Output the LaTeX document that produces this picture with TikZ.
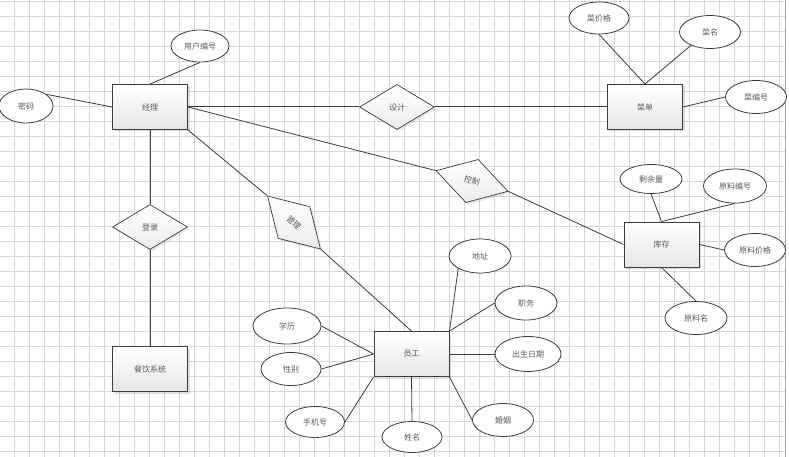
\documentclass[tikz,border=0pt]{standalone}
\usepackage{fontspec}
\setmainfont{Noto Sans CJK SC}
\usetikzlibrary{shapes.geometric,shadows}
\definecolor{gridc}{RGB}{214,214,214}
\definecolor{edgec}{RGB}{60,60,60}
\definecolor{txtc}{RGB}{90,90,90}
\begin{document}
\begin{tikzpicture}[x=1pt,y=-1pt,
  gridline/.style={draw=gridc,line width=0.8pt},
  entity/.style={rectangle,draw=edgec,line width=0.9pt,minimum width=75,minimum height=45,
    top color=white,bottom color=black!10,inner sep=1pt,
    drop shadow={shadow xshift=2pt,shadow yshift=-2pt,opacity=0.25}},
  rel/.style={diamond,draw=edgec,line width=0.7pt,minimum width=75,minimum height=45,
    shape aspect=1.667,inner sep=0pt,top color=white,bottom color=black!8,
    drop shadow={shadow xshift=2pt,shadow yshift=-2pt,opacity=0.18}},
  attr/.style={ellipse,draw=edgec,line width=0.8pt,fill=white,inner sep=0pt,
    minimum width=60,minimum height=33},
  conn/.style={draw=edgec,line width=0.8pt},
  font=\fontsize{8}{10}\selectfont, text=txtc]
\useasboundingbox (0,0) rectangle (789,457);
\fill[white] (0,0) rectangle (789,457);
% grid
\foreach \i in {0,...,51} \draw[gridline] ({14.3+15*\i},0) -- ({14.3+15*\i},457);
\foreach \j in {0,...,30} \draw[gridline] (0,{1+15*\j}) -- (785,{1+15*\j});
\draw[draw=black!35,line width=0.8pt] (785,0) -- (785,457);

% entities
\node[entity] (jl) at (150,107) {经理};
\node[entity] (cd) at (645,107) {菜单};
\node[entity] (cy) at (150,369) {餐饮系统};
\node[entity] (kc) at (661.5,244.5) {库存};
\node[entity] (yg) at (411.5,354) {员工};

% relations
\node[rel] (sj) at (397,107) {设计};
\node[rel] (dl) at (150,227) {登录};
\node[rel,rotate=-45] (gl) at (294,222.5) {管理};
\node[rel,rotate=-16] (kz) at (472,181) {控制};

% attributes
\node[attr,minimum width=58,minimum height=32] (yhbh) at (200,46) {用户编号};
\node[attr,minimum width=54,minimum height=34] (mm) at (26,106) {密码};
\node[attr,minimum width=60,minimum height=32] (cjg) at (599,18) {菜价格};
\node[attr,minimum width=61,minimum height=33] (cm) at (710,32) {菜名};
\node[attr,minimum width=61,minimum height=33] (cbh) at (756,97) {菜编号};
\node[attr,minimum width=62,minimum height=29] (syl) at (651,179) {剩余量};
\node[attr,minimum width=63,minimum height=34] (ylbh) at (735,186) {原料编号};
\node[attr,minimum width=61,minimum height=33] (yljg) at (755,250) {原料价格};
\node[attr,minimum width=62,minimum height=33] (ylm) at (696,318) {原料名};
\node[attr,minimum width=62,minimum height=34] (dz) at (480,256) {地址};
\node[attr,minimum width=62,minimum height=34] (zw) at (526,303) {职务};
\node[attr,minimum width=66,minimum height=35] (csrq) at (528,354) {出生日期};
\node[attr,minimum width=61,minimum height=33] (hy) at (503,420) {婚姻};
\node[attr,minimum width=60,minimum height=31] (xm) at (412,437) {姓名};
\node[attr,minimum width=59,minimum height=31] (sjh) at (315,422) {手机号};
\node[attr,minimum width=60,minimum height=33] (xb) at (291,369) {性别};
\node[attr,minimum width=68,minimum height=36] (xl) at (287,326) {学历};

% connectors
\draw[conn] (jl.north) -- (yhbh.south);
\draw[conn] (mm.30) -- (jl.west);
\draw[conn,line width=1pt] (jl.east) -- (sj.west);
\draw[conn,line width=1pt] (sj.east) -- (cd.west);
\draw[conn] (cjg.south) -- (cd.north);
\draw[conn] (cm.215) -- (cd.north);
\draw[conn] (cd.east) -- (cbh.west);
\draw[conn] (jl.east) -- (kz.west);
\draw[conn] (kz.east) -- (kc.west);
\draw[conn] (jl.south east) -- (gl.west);
\draw[conn] (gl.east) -- (yg.north);
\draw[conn,line width=1pt] (jl.south) -- (dl.north);
\draw[conn,line width=1pt] (dl.south) -- (cy.north);
\draw[conn] (syl.south) -- (kc.north);
\draw[conn] (ylbh.south) -- (kc.north);
\draw[conn] (kc.east) -- (yljg.west);
\draw[conn] (kc.south) -- (ylm.north);
\draw[conn] (dz.210) -- (yg.north east);
\draw[conn] (yg.north east) -- (zw.west);
\draw[conn] (yg.east) -- (csrq.west);
\draw[conn] (yg.south east) -- (hy.west);
\draw[conn] (yg.south) -- (xm.north);
\draw[conn] (yg.south west) -- (sjh.east);
\draw[conn] (xb.east) -- (yg.west);
\draw[conn] (xl.east) -- (yg.west);
\end{tikzpicture}
\end{document}
